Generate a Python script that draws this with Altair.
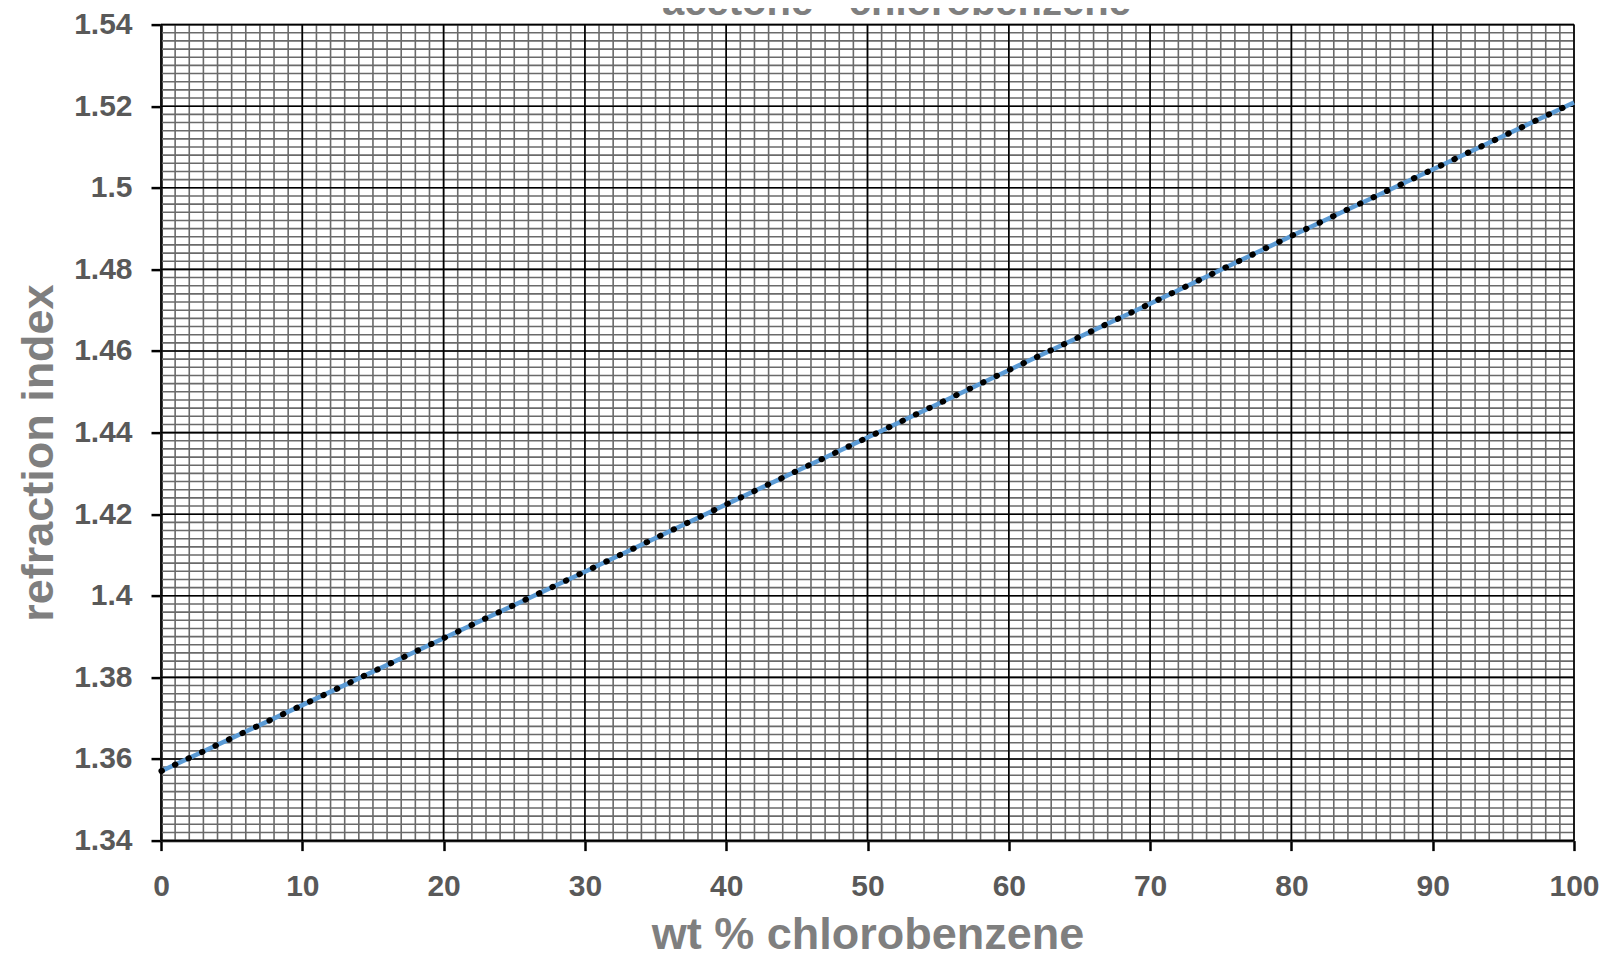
import altair as alt
import pandas as pd

# ---- data ----
chart_title = ["acetone - chlorobenzene"]
wt_pct = [0, 10, 20, 30, 40, 50, 60, 70, 80, 90, 100]
refr_index = [1.357, 1.3732, 1.3896, 1.4059, 1.4224, 1.4388, 1.4553, 1.4716, 1.4882, 1.5045, 1.5209]

x_major = list(range(0, 101, 10))
y_major = [round(1.34 + 0.02 * i, 2) for i in range(11)]
x_minor = list(range(0, 101))
y_minor = [round(1.34 + 0.002 * i, 3) for i in range(101)]

W, H = 1413, 816
FONT = "Liberation Sans"

xs = alt.Scale(domain=[0, 100], nice=False, zero=False)
ys = alt.Scale(domain=[1.34, 1.54], nice=False, zero=False)

x_axis = alt.Axis(
    values=x_major, title="wt % chlorobenzene", grid=False,
    domainColor="#000000", domainWidth=2.5, tickColor="#000000", tickWidth=2.5, tickSize=10,
    labelFont=FONT, labelFontWeight="bold", labelFontSize=30, labelColor="#595959",
    labelPadding=21, labelFlush=False, labelOverlap=False,
    titleFont=FONT, titleFontWeight="bold", titleFontSize=45, titleColor="#7f7f7f",
    titleY=94, titleBaseline="middle",
)
y_axis = alt.Axis(
    values=y_major, format="~g", title="refraction index", grid=False,
    domainColor="#000000", domainWidth=2.5, tickColor="#000000", tickWidth=2.5, tickSize=10,
    labelFont=FONT, labelFontWeight="bold", labelFontSize=30, labelColor="#595959",
    labelPadding=19, labelFlush=False, labelOverlap=False,
    titleFont=FONT, titleFontWeight="bold", titleFontSize=45, titleColor="#7f7f7f",
    titleX=-123, titleY=H / 2 + 20, titleAngle=270, titleAlign="center", titleBaseline="middle",
)

df = pd.DataFrame({"wt": wt_pct, "n": refr_index})

minor_v = alt.Chart(pd.DataFrame({"wt": x_minor})).mark_rule(
    color="#6a6a6a", strokeWidth=1.6
).encode(x=alt.X("wt:Q", scale=xs, axis=x_axis))

minor_h = alt.Chart(pd.DataFrame({"n": y_minor})).mark_rule(
    color="#6a6a6a", strokeWidth=1.6
).encode(y=alt.Y("n:Q", scale=ys, axis=y_axis))

major_v = alt.Chart(pd.DataFrame({"wt": x_major})).mark_rule(
    color="#000000", strokeWidth=1.6
).encode(x=alt.X("wt:Q", scale=xs, axis=x_axis))

major_h = alt.Chart(pd.DataFrame({"n": y_major})).mark_rule(
    color="#000000", strokeWidth=1.6
).encode(y=alt.Y("n:Q", scale=ys, axis=y_axis))

line = alt.Chart(df).mark_line(color="#5B9BD5", strokeWidth=4.5).encode(
    x=alt.X("wt:Q", scale=xs, axis=x_axis),
    y=alt.Y("n:Q", scale=ys, axis=y_axis),
)

dots = alt.Chart(df).mark_line(
    color="#000000", strokeWidth=6, strokeCap="round", strokeDash=[0.5, 14.4], strokeDashOffset=-0.5
).encode(
    x=alt.X("wt:Q", scale=xs, axis=x_axis),
    y=alt.Y("n:Q", scale=ys, axis=y_axis),
)

# chart title, partly cut off by the top edge as in the reference
title_mark = alt.Chart(pd.DataFrame({"t": chart_title})).mark_text(
    font=FONT, fontSize=40, fontWeight="bold", color="#7f7f7f",
    align="center", baseline="alphabetic",
).encode(text="t:N", x=alt.value(W / 2 + 29), y=alt.value(-10))

chart = alt.layer(minor_v, minor_h, major_v, major_h, line, dots, title_mark).properties(
    width=W, height=H,
    autosize=alt.AutoSizeParams(type="none"),
    padding={"left": 153, "top": 16.6, "right": 28, "bottom": 112},
).configure_view(strokeWidth=0).configure(background="white")

chart.save("out.html", embed_options={"renderer": "svg", "actions": False})
